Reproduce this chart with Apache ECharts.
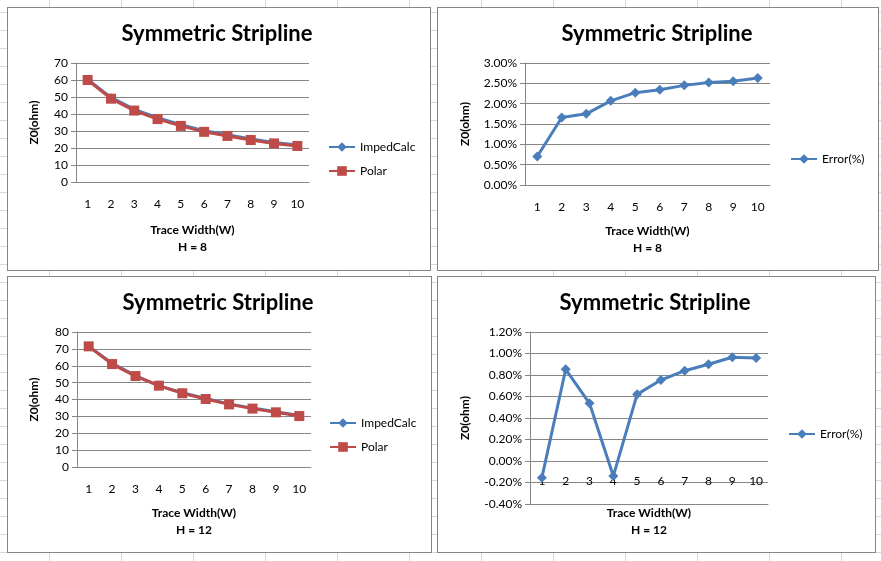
<!DOCTYPE html>
<html>
<head>
<meta charset="utf-8">
<script src="https://cdn.jsdelivr.net/npm/echarts@6/dist/echarts.min.js"></script>
<style>
  html, body { margin: 0; padding: 0; }
  body {
    width: 881px; height: 561px; position: relative; overflow: hidden;
    background-color: #fff;
    /* spreadsheet cell grid behind the charts */
    background-image: linear-gradient(to right, #d0d7e5 1px, transparent 1px),
                      linear-gradient(to bottom, #d0d7e5 1px, transparent 1px);
    background-size: 72px 18px;
    background-position: 49px 12px;
  }
  .box { position: absolute; box-sizing: border-box; border: 1px solid #868686; background: #fff; }
</style>
</head>
<body>
<div id="chartH8" class="box" style="left:7px;top:7px;width:424px;height:264px"></div>
<div id="errH8" class="box" style="left:437px;top:7px;width:442px;height:264px"></div>
<div id="chartH12" class="box" style="left:7px;top:276px;width:425px;height:277px"></div>
<div id="errH12" class="box" style="left:437px;top:276px;width:439px;height:277px"></div>
<script>
const widths = ['1', '2', '3', '4', '5', '6', '7', '8', '9', '10']

// H = 8
const impedH8 = [60.4, 49.8, 42.7, 37.8, 33.7, 30.2, 27.8, 25.3, 23.3, 21.8]
const polarH8 = [60.0, 49.0, 42.0, 37.0, 33.0, 29.5, 27.1, 24.7, 22.7, 21.2]
const errorH8 = [0.70, 1.66, 1.75, 2.07, 2.27, 2.34, 2.45, 2.52, 2.55, 2.63]

// H = 12
const impedH12 = [71.4, 61.5, 54.2, 48.1, 44.0, 40.6, 37.4, 34.9, 32.7, 30.5]
const polarH12 = [71.5, 61.0, 53.9, 48.2, 43.7, 40.3, 37.1, 34.6, 32.4, 30.2]
const errorH12 = [-0.155, 0.853, 0.537, -0.14, 0.62, 0.753, 0.84, 0.90, 0.965, 0.958]

const FONT = 'Lato'
const BLUE = '#4a7ebb'
const RED = '#be4b48'
const GRID_GREY = '#868686'

function lineSeries(name, data, color, symbol, size) {
  return {
    name: name,
    type: 'line',
    data: data,
    symbol: symbol,
    symbolSize: size,
    lineStyle: { color: color, width: 3 },
    itemStyle: { color: color },
    emphasis: { disabled: true }
  }
}

function makeOption(o) {
  return {
    animation: false,
    textStyle: { fontFamily: FONT },
    title: {
      text: 'Symmetric Stripline',
      left: o.titleX,
      top: 15,
      padding: 0,
      textAlign: 'center',
      textStyle: { fontFamily: FONT, fontSize: 22, fontWeight: 'bold', color: '#000' }
    },
    legend: {
      orient: 'vertical',
      left: o.legendX,
      top: o.legendY,
      padding: 0,
      itemWidth: 26,
      itemHeight: 12,
      itemGap: 12,
      selectedMode: false,
      textStyle: { fontFamily: FONT, fontSize: 12, color: '#000' }
    },
    grid: Object.assign({ outerBoundsMode: 'none', containLabel: false }, o.grid),
    xAxis: {
      type: 'category',
      data: widths,
      boundaryGap: true,
      name: o.xName,
      nameLocation: 'middle',
      nameGap: o.xNameGap,
      nameMoveOverlap: false,
      nameTextStyle: { fontFamily: FONT, fontSize: 12, fontWeight: 'bold', color: '#000', lineHeight: 17 },
      axisLine: { show: true, onZero: false, lineStyle: { color: GRID_GREY, width: 1 } },
      axisTick: { show: false },
      // labels sit under the 0 line, so the H=12 error chart pulls them up
      axisLabel: { margin: o.xLabelMargin, fontFamily: FONT, fontSize: 12, color: '#000' }
    },
    yAxis: {
      type: 'value',
      min: o.min,
      max: o.max,
      interval: o.interval,
      name: 'Z0(ohm)',
      nameLocation: 'middle',
      nameGap: o.yNameGap,
      nameTextStyle: { fontFamily: FONT, fontSize: 12, fontWeight: 'bold', color: '#000' },
      axisLine: { show: true, onZero: false, lineStyle: { color: GRID_GREY, width: 1 } },
      axisTick: { show: true, length: 5, lineStyle: { color: GRID_GREY } },
      splitLine: { show: true, lineStyle: { color: GRID_GREY, width: 1 } },
      axisLabel: { margin: 8, fontFamily: FONT, fontSize: 12, color: '#000', formatter: o.fmt }
    },
    series: o.series
  }
}

const pct = function (v) { return v.toFixed(2) + '%' }

const charts = [
  {
    id: 'chartH8',
    opt: makeOption({
      titleX: 209,
      legendX: 320, legendY: 133,
      grid: { left: 68, top: 55, width: 233, height: 119 },
      xName: 'Trace Width(W)\nH = 8', xNameGap: 40, yNameGap: 36, xLabelMargin: 16,
      min: 0, max: 70, interval: 10,
      series: [
        lineSeries('ImpedCalc', impedH8, BLUE, 'diamond', 8),
        lineSeries('Polar', polarH8, RED, 'rect', 10)
      ]
    })
  },
  {
    id: 'errH8',
    opt: makeOption({
      titleX: 219,
      legendX: 352, legendY: 145,
      grid: { left: 87, top: 55, width: 245, height: 122 },
      xName: 'Trace Width(W)\nH = 8', xNameGap: 38, yNameGap: 54, xLabelMargin: 16,
      min: 0, max: 3, interval: 0.5, fmt: pct,
      series: [lineSeries('Error(%)', errorH8, BLUE, 'diamond', 10)]
    })
  },
  {
    id: 'chartH12',
    opt: makeOption({
      titleX: 210,
      legendX: 321, legendY: 140,
      grid: { left: 69, top: 55, width: 234, height: 135 },
      xName: 'Trace Width(W)\nH = 12', xNameGap: 38, yNameGap: 37, xLabelMargin: 16,
      min: 0, max: 80, interval: 10,
      series: [
        lineSeries('ImpedCalc', impedH12, BLUE, 'diamond', 8),
        lineSeries('Polar', polarH12, RED, 'rect', 10)
      ]
    })
  },
  {
    id: 'errH12',
    opt: makeOption({
      titleX: 217,
      legendX: 350, legendY: 151,
      grid: { left: 92, top: 55, width: 238, height: 172 },
      xName: 'Trace Width(W)\nH = 12', xNameGap: 1, yNameGap: 59, xLabelMargin: -29,
      min: -0.4, max: 1.2, interval: 0.2, fmt: pct,
      series: [lineSeries('Error(%)', errorH12, BLUE, 'diamond', 10)]
    })
  }
]

charts.forEach(function (c) {
  const chart = echarts.init(document.getElementById(c.id), null, { renderer: 'canvas' })
  chart.setOption(c.opt)
})
</script>
</body>
</html>
